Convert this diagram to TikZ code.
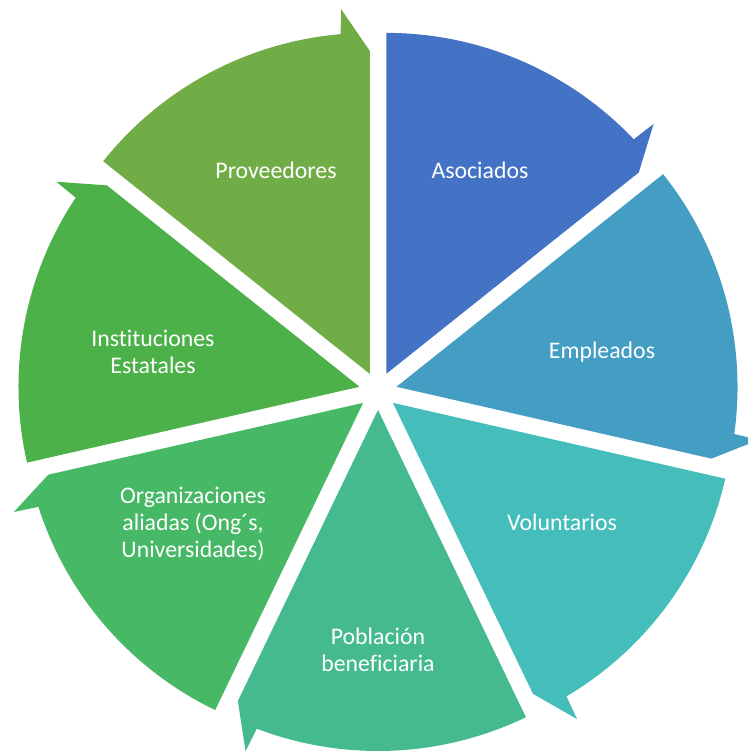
\documentclass[tikz,border=0pt]{standalone}
\usepackage{fontspec}
\setmainfont[Ligatures=CommonOff]{Carlito}
\usetikzlibrary{calc}
\definecolor{c0}{HTML}{4472C4}
\definecolor{c1}{HTML}{449DC2}
\definecolor{c2}{HTML}{45BEBB}
\definecolor{c3}{HTML}{45BA8F}
\definecolor{c4}{HTML}{47B865}
\definecolor{c5}{HTML}{4CB148}
\definecolor{c6}{HTML}{70AD47}
\begin{document}
\begin{tikzpicture}[x=1pt,y=1pt,
  lbl/.style={text=white,font=\fontsize{23.8}{27}\selectfont,align=center,inner sep=0pt}]
\useasboundingbox (0,0) rectangle (748,751);
\clip (0,0) rectangle (748,751);
\coordinate (C) at (378,360);
\foreach \k/\col in {0/c0,1/c1,2/c2,3/c3,4/c4,5/c5,6/c6}{
  \pgfmathsetmacro\s{90-51.4286*\k}
  \pgfmathsetmacro\e{\s-51.4286}
  \pgfmathsetmacro\b{\s-25.7143}
  \pgfmathsetmacro\n{\e+4.9}
  \pgfmathsetmacro\t{\e+4.5}
  \coordinate (A\k) at ($(C)+(\b:19)$);
  \fill[\col] (A\k) -- ($(A\k)+(\s:341)$) arc[start angle=\s, end angle=\n, radius=341]
     -- ($(A\k)+(\t:366)$) -- ($(A\k)+(\e:323)$) -- cycle;
}
\node[lbl] (asoc) at (480,581) {Asociados};
\node[lbl] (empl) at (602,399) {Empleados};
\node[lbl] (volu) at (562,229) {Voluntarios};
\node[lbl] (pobl) at (378,101) {Población\\beneficiaria};
\node[lbl] (orga) at (193,227) {Organizaciones\\aliadas (Ong´s,\\Universidades)};
\node[lbl] (inst) at (153,399) {Instituciones\\Estatales};
\node[lbl] (prov) at (276,581) {Proveedores};
\end{tikzpicture}
\end{document}
